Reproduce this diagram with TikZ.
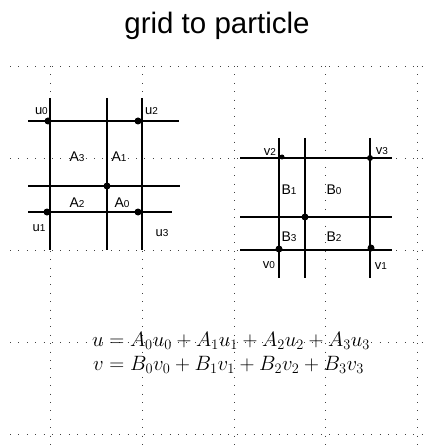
\documentclass[tikz,border=0pt]{standalone}
\usepackage{fontspec}
\setmainfont{Liberation Sans}
\begin{document}
\begin{tikzpicture}[x=1pt,y=-1pt,
  dotline/.style={draw=black!75,line width=0.9pt,dash pattern=on 0.9pt off 7.5pt},
  gridline/.style={draw=black,line width=1.6pt},
  gdot/.style={circle,fill=black,inner sep=0pt,minimum size=7pt},
  lab/.style={inner sep=0pt,font=\fontsize{13}{13}\selectfont},
  blab/.style={inner sep=0pt,font=\fontsize{14}{14}\selectfont},
  eq/.style={inner sep=0pt,anchor=base,font=\fontsize{20}{24}\selectfont}]
\newcommand{\dg}[1]{{\fontsize{10}{10}\selectfont #1}}
\useasboundingbox (0,0) rectangle (427,446);
% title
\node[inner sep=0pt,anchor=base,font=\fontsize{29.5}{31}\selectfont] (title) at (217,34) {grid to particle};
% dotted background grid
\foreach \y in {66,158,250,342,434} \draw[dotline] (10,\y) -- (425,\y);
\foreach \x in {50,142,234,325,417} \draw[dotline] (\x,66) -- (\x,446);
% left grid (u)
\foreach \x in {50,107,142} \draw[gridline] (\x,98) -- (\x,250);
\draw[gridline] (28,121) -- (179,121);
\draw[gridline] (28,186) -- (180,186);
\draw[gridline] (28,212) -- (172,212);
\node[gdot] (u0) at (48,121) {};
\node[gdot] (u2) at (138,121) {};
\node[gdot] (u1) at (47,212) {};
\node[gdot] (u3) at (138,212) {};
\node[gdot] (uc) at (107,186) {};
\node[lab,anchor=east] (lu0) at (48,111) {u\dg{0}};
\node[lab,anchor=west] (lu2) at (145,111) {u\dg{2}};
\node[lab] (lu1) at (39,228) {u\dg{1}};
\node[lab] (lu3) at (162,233) {u\dg{3}};
\node[blab] (a3) at (77,157) {A\dg{3}};
\node[blab] (a1) at (119,157) {A\dg{1}};
\node[blab] (a2) at (77,203) {A\dg{2}};
\node[blab] (a0) at (122,203) {A\dg{0}};
% right grid (v)
\foreach \x in {279,305,370} \draw[gridline] (\x,138) -- (\x,278);
\foreach \y in {158,217,250} \draw[gridline] (240,\y) -- (392,\y);
\node[gdot,minimum size=5pt] (v2) at (282,157) {};
\node[gdot,minimum size=6pt] (v3) at (370,158) {};
\node[gdot] (v0) at (279,249) {};
\node[gdot] (v1) at (371,248) {};
\node[gdot] (vc) at (305,217) {};
\node[lab] (lv2) at (270,152) {v\dg{2}};
\node[lab] (lv3) at (382,151) {v\dg{3}};
\node[lab] (lv0) at (269,265) {v\dg{0}};
\node[lab] (lv1) at (381,266) {v\dg{1}};
\node[blab] (b1) at (289,190) {B\dg{1}};
\node[blab] (b0) at (334,190) {B\dg{0}};
\node[blab] (b3) at (289,237) {B\dg{3}};
\node[blab] (b2) at (334,237) {B\dg{2}};
% equations
\node[eq] (equ) at (231,346) {$u = A_0u_0 + A_1u_1 + A_2u_2 + A_3u_3$};
\node[eq] (eqv) at (228.5,370) {$v = B_0v_0 + B_1v_1 + B_2v_2 + B_3v_3$};
\end{tikzpicture}
\end{document}
